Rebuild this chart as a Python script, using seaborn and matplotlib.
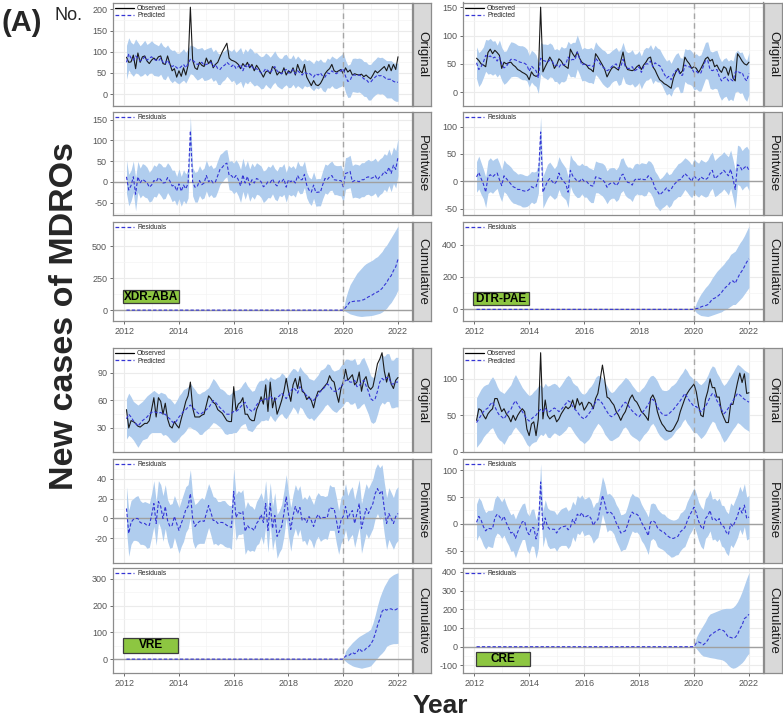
import numpy as np
import pandas as pd
import seaborn as sns
import matplotlib.pyplot as plt
from matplotlib.lines import Line2D
from matplotlib.patches import Rectangle

# ---------------- data (monthly, Jan 2012 .. Dec 2021) ----------------
months = 2012 + np.arange(1, 121) / 12
post = np.arange(120) >= 96

xdr_obs = [87, 75, 76, 92, 60, 97, 75, 88, 90, 78, 72, 80,
           85, 80, 88, 90, 72, 70, 90, 72, 55, 60, 40, 55,
           42, 62, 45, 68, 205, 80, 62, 58, 75, 68, 65, 85,
           72, 80, 62, 70, 75, 88, 100, 110, 120, 85, 80, 78,
           75, 70, 60, 72, 65, 75, 62, 70, 55, 68, 60, 50,
           40, 52, 55, 48, 65, 60, 45, 52, 48, 62, 45, 55,
           50, 62, 45, 70, 55, 50, 70, 40, 30, 20, 32, 22,
           20, 25, 35, 48, 55, 60, 70, 55, 52, 55, 58, 48,
           62, 52, 57, 45, 48, 46, 45, 47, 41, 45, 40, 36,
           45, 55, 50, 55, 60, 65, 55, 70, 55, 70, 58, 88]
xdr_pred = [75, 95, 85, 80, 90, 85, 78, 82, 88, 80, 85, 88,
            82, 80, 78, 85, 75, 72, 80, 70, 65, 68, 62, 60,
            65, 70, 62, 72, 82, 80, 75, 70, 72, 75, 68, 70,
            72, 75, 65, 70, 60, 58, 65, 68, 75, 70, 65, 70,
            60, 65, 70, 55, 68, 62, 70, 65, 58, 60, 55, 50,
            52, 60, 55, 50, 58, 65, 55, 50, 48, 55, 58, 50,
            50, 58, 48, 55, 50, 45, 52, 48, 50, 45, 40, 48,
            45, 50, 42, 40, 50, 48, 55, 50, 48, 52, 55, 60,
            42, 30, 32, 45, 45, 44, 45, 42, 36, 35, 28, 28,
            35, 40, 45, 43, 44, 40, 35, 35, 35, 30, 28, 28]
xdr_hw = [40, 38, 37, 38, 40, 37, 36, 38, 39, 37, 36, 38,
          38, 37, 36, 38, 39, 38, 36, 37, 38, 36, 35, 36,
          36, 37, 36, 35, 34, 34, 36, 37, 36, 35, 36, 37,
          37, 36, 35, 36, 37, 36, 35, 34, 33, 34, 36, 37,
          38, 39, 40, 40, 39, 38, 39, 40, 39, 38, 37, 38,
          38, 37, 38, 37, 36, 37, 36, 35, 36, 37, 36, 35,
          34, 35, 34, 35, 34, 33, 32, 31, 31, 32, 32, 33,
          33, 33, 34, 35, 35, 34, 35, 36, 35, 36, 37, 37,
          38, 38, 39, 39, 40, 40, 40, 41, 41, 41, 42, 42,
          42, 42, 43, 43, 43, 43, 44, 44, 44, 44, 45, 45]
xdr_cum_hi = [70, 108, 133, 163, 190, 218, 238, 253, 268, 273, 271, 273,
              273, 273, 278, 286, 290, 295, 295, 290, 300, 290, 290, 260]
xdr_cum_lo = [30, 62, 97, 102, 110, 117, 120, 127, 130, 138, 149, 155,
              162, 172, 172, 179, 185, 195, 200, 210, 210, 220, 220, 240]

dtr_obs = [60, 56, 50, 48, 45, 70, 76, 68, 74, 70, 65, 42,
           53, 50, 52, 53, 48, 45, 40, 38, 35, 33, 30, 22,
           36, 30, 28, 30, 150, 36, 45, 53, 62, 55, 42, 48,
           59, 55, 48, 45, 42, 76, 68, 62, 71, 60, 53, 50,
           48, 42, 40, 36, 68, 62, 55, 48, 40, 27, 35, 42,
           45, 42, 39, 55, 71, 48, 40, 39, 38, 40, 45, 48,
           40, 48, 53, 60, 62, 45, 39, 30, 22, 19, 15, 13,
           10, 7, 25, 35, 42, 33, 38, 62, 55, 50, 42, 45,
           42, 35, 42, 50, 59, 62, 55, 58, 45, 48, 40, 35,
           45, 42, 30, 45, 25, 20, 68, 62, 55, 50, 48, 53]
dtr_pred = [52, 40, 45, 53, 65, 62, 64, 60, 62, 55, 62, 50,
            43, 45, 52, 58, 58, 57, 55, 53, 52, 51, 48, 37,
            46, 42, 38, 25, 60, 56, 55, 53, 57, 55, 47, 48,
            44, 50, 48, 50, 62, 56, 58, 57, 71, 60, 48, 50,
            48, 47, 48, 45, 60, 55, 50, 45, 42, 38, 40, 45,
            48, 50, 42, 45, 58, 45, 42, 42, 45, 38, 40, 45,
            35, 45, 50, 50, 55, 45, 52, 48, 47, 40, 32, 25,
            28, 22, 32, 38, 40, 30, 30, 48, 45, 45, 42, 35,
            37, 33, 34, 45, 56, 56, 40, 38, 40, 40, 28, 20,
            25, 27, 20, 23, 20, 35, 38, 34, 35, 25, 20, 33]
dtr_hw = [28, 30, 29, 27, 28, 30, 31, 30, 29, 28, 30, 29,
          29, 28, 30, 31, 30, 29, 28, 29, 30, 29, 28, 28,
          28, 29, 28, 27, 28, 29, 30, 31, 30, 29, 28, 29,
          30, 31, 30, 29, 28, 29, 30, 31, 30, 29, 28, 29,
          29, 30, 31, 30, 29, 28, 29, 30, 31, 30, 29, 28,
          28, 29, 30, 31, 30, 29, 28, 29, 30, 29, 28, 28,
          29, 30, 29, 28, 29, 30, 31, 30, 29, 28, 29, 30,
          30, 29, 28, 29, 30, 31, 30, 29, 30, 31, 30, 31,
          31, 31, 32, 32, 32, 33, 33, 33, 33, 34, 34, 34,
          34, 34, 35, 35, 35, 35, 36, 36, 36, 36, 36, 37]
dtr_cum_hi = [35, 63, 80, 95, 112, 121, 126, 131, 146, 158, 161, 161,
              156, 161, 166, 169, 174, 199, 194, 191, 191, 191, 193, 203]
dtr_cum_lo = [25, 37, 53, 60, 65, 73, 84, 99, 99, 102, 109, 119,
              129, 139, 139, 151, 146, 131, 146, 159, 164, 169, 177, 177]

vre_obs = [50, 30, 38, 37, 35, 32, 31, 33, 35, 35, 38, 50,
           63, 42, 63, 59, 45, 57, 40, 32, 30, 37, 33, 30,
           40, 49, 59, 65, 80, 52, 42, 42, 42, 44, 45, 55,
           65, 62, 58, 56, 50, 48, 46, 42, 38, 37, 37, 75,
           49, 56, 58, 63, 45, 45, 40, 38, 38, 50, 56, 64,
           56, 77, 48, 80, 52, 63, 45, 52, 60, 70, 84, 70,
           59, 77, 84, 73, 86, 70, 68, 61, 64, 60, 52, 63,
           70, 70, 73, 76, 79, 87, 82, 80, 68, 58, 73, 80,
           94, 82, 85, 88, 77, 80, 91, 70, 82, 86, 75, 72,
           75, 87, 100, 105, 112, 92, 80, 90, 78, 73, 82, 85]
vre_pred = [40, 45, 42, 38, 35, 32, 35, 38, 40, 42, 45, 47,
            48, 47, 46, 47, 45, 45, 42, 40, 37, 35, 38, 42,
            45, 48, 50, 53, 55, 52, 50, 47, 45, 46, 48, 50,
            52, 56, 60, 58, 55, 52, 50, 47, 45, 45, 46, 48,
            48, 50, 53, 56, 58, 52, 50, 48, 50, 55, 58, 60,
            60, 62, 60, 65, 62, 60, 63, 65, 68, 65, 62, 66,
            70, 74, 72, 68, 75, 72, 68, 65, 62, 62, 60, 63,
            66, 70, 72, 75, 78, 76, 72, 70, 70, 72, 75, 78,
            82, 82, 80, 80, 82, 75, 76, 80, 82, 76, 70, 62,
            60, 62, 70, 80, 84, 82, 85, 85, 78, 78, 80, 80]
vre_hw = [22, 23, 22, 21, 22, 23, 22, 21, 22, 23, 22, 22,
          23, 22, 21, 22, 23, 22, 21, 22, 22, 21, 22, 23,
          23, 24, 23, 22, 24, 23, 22, 21, 22, 23, 22, 22,
          22, 23, 24, 23, 22, 21, 22, 23, 22, 21, 22, 23,
          23, 22, 21, 22, 23, 24, 23, 22, 21, 22, 23, 22,
          22, 23, 22, 21, 22, 23, 22, 21, 22, 23, 22, 22,
          22, 21, 22, 23, 22, 21, 22, 23, 22, 21, 22, 22,
          22, 23, 22, 21, 22, 23, 22, 22, 23, 22, 23, 23,
          23, 23, 24, 24, 24, 24, 24, 25, 25, 25, 25, 25,
          25, 25, 25, 26, 26, 26, 26, 26, 26, 26, 27, 27]
vre_cum_hi = [18, 30, 35, 37, 50, 53, 45, 60, 65, 60, 60, 57,
              65, 70, 75, 80, 75, 85, 105, 115, 122, 133, 135, 133]
vre_cum_lo = [20, 27, 37, 50, 48, 55, 72, 64, 62, 70, 73, 80,
              85, 100, 120, 135, 155, 155, 135, 135, 132, 125, 127, 131]

cre_obs = [43, 59, 57, 50, 45, 52, 56, 59, 73, 73, 64, 55,
           59, 52, 48, 41, 50, 43, 50, 55, 59, 55, 31, 22,
           38, 41, 22, 45, 136, 45, 71, 50, 45, 48, 50, 41,
           45, 52, 57, 62, 59, 62, 71, 59, 73, 64, 68, 57,
           62, 68, 66, 59, 73, 80, 99, 119, 99, 75, 73, 68,
           64, 55, 50, 43, 50, 55, 64, 73, 78, 71, 68, 62,
           55, 52, 48, 43, 73, 78, 71, 55, 45, 38, 34, 29,
           28, 28, 31, 37, 43, 55, 64, 73, 80, 85, 89, 93,
           82, 63, 50, 48, 72, 83, 100, 88, 88, 75, 75, 55,
           47, 40, 40, 65, 65, 80, 95, 108, 95, 107, 80, 81]
cre_pred = [40, 45, 50, 55, 58, 60, 65, 68, 62, 55, 50, 48,
            45, 50, 55, 58, 65, 70, 65, 60, 55, 50, 45, 42,
            45, 48, 50, 55, 58, 55, 60, 55, 55, 58, 60, 58,
            55, 58, 62, 66, 70, 68, 62, 58, 55, 50, 47, 45,
            48, 52, 56, 62, 68, 72, 70, 66, 60, 55, 50, 48,
            50, 53, 56, 60, 65, 68, 65, 60, 56, 53, 50, 48,
            52, 56, 60, 65, 70, 72, 68, 62, 56, 52, 50, 50,
            52, 55, 58, 62, 66, 70, 75, 80, 75, 70, 66, 62,
            62, 58, 55, 58, 62, 68, 75, 80, 78, 70, 65, 58,
            52, 55, 60, 65, 70, 75, 80, 78, 75, 72, 70, 68]
cre_hw = [34, 35, 36, 35, 34, 33, 34, 35, 36, 35, 34, 34,
          35, 34, 33, 34, 35, 36, 35, 34, 33, 34, 35, 35,
          34, 35, 36, 35, 34, 33, 34, 35, 36, 35, 34, 34,
          33, 34, 35, 36, 35, 34, 33, 34, 35, 34, 33, 34,
          34, 35, 34, 33, 34, 33, 34, 35, 36, 35, 34, 33,
          33, 34, 35, 34, 33, 34, 35, 36, 35, 34, 33, 34,
          34, 33, 34, 35, 34, 33, 34, 35, 34, 33, 34, 34,
          34, 35, 34, 33, 34, 35, 34, 35, 36, 35, 36, 36,
          36, 36, 37, 37, 37, 37, 38, 38, 38, 38, 38, 38,
          39, 39, 39, 39, 39, 40, 40, 40, 40, 40, 40, 40]
cre_cum_hi = [30, 50, 75, 105, 115, 125, 115, 112, 107, 107, 102, 110,
              118, 135, 155, 155, 165, 172, 175, 170, 180, 180, 205, 222]
cre_cum_lo = [30, 50, 60, 60, 72, 90, 118, 128, 140, 148, 160, 159,
              160, 155, 150, 160, 160, 162, 170, 190, 200, 220, 210, 208]

panels = {
    "XDR-ABA": dict(obs=xdr_obs, pred=xdr_pred, hw=xdr_hw, chi=xdr_cum_hi, clo=xdr_cum_lo,
                    ticks=[[0, 50, 100, 150, 200], [-50, 0, 50, 100, 150], [0, 250, 500]]),
    "DTR-PAE": dict(obs=dtr_obs, pred=dtr_pred, hw=dtr_hw, chi=dtr_cum_hi, clo=dtr_cum_lo,
                    ticks=[[0, 50, 100, 150], [-50, 0, 50, 100], [0, 200, 400]]),
    "VRE": dict(obs=vre_obs, pred=vre_pred, hw=vre_hw, chi=vre_cum_hi, clo=vre_cum_lo,
                ticks=[[30, 60, 90], [-20, 0, 20, 40], [0, 100, 200, 300]]),
    "CRE": dict(obs=cre_obs, pred=cre_pred, hw=cre_hw, chi=cre_cum_hi, clo=cre_cum_lo,
                ticks=[[0, 50, 100], [-50, 0, 50, 100], [-100, 0, 100, 200, 300, 400]]),
}
facet_names = ["Original", "Pointwise", "Cumulative"]

# ---------------- layout (pixels, top-left origin) ----------------
W, H = 783, 719
cols = [(112.7, 411.7), (462.7, 762.7)]
rows = {"top": [(2.5, 106), (112, 215.5), (221.5, 321)],
        "bot": [(348, 452), (459, 563), (568, 673)]}
where = {"XDR-ABA": (0, "top", (123, 290, 179, 303)),
         "DTR-PAE": (1, "top", (473, 292, 529, 305)),
         "VRE": (0, "bot", (123, 638, 178, 653)),
         "CRE": (1, "bot", (476, 652, 530, 666))}

BAND = "#B0CDEE"
BLUE = "#3535D5"
GREY = "#8C8C8C"

sns.set_theme(style="white")
plt.rcParams["font.family"] = ["Liberation Sans", "DejaVu Sans"]
plt.rcParams["axes.unicode_minus"] = False

fig = plt.figure(figsize=(W / 100, H / 100), dpi=100)


def rect(x0, y0, x1, y1):
    return [x0 / W, 1 - y1 / H, (x1 - x0) / W, (y1 - y0) / H]


def style_axes(ax, ticks, show_x):
    ax.margins(x=0.05, y=0.05)
    ax.set_xticks([2012, 2014, 2016, 2018, 2020, 2022])
    ax.set_xticks([2011, 2013, 2015, 2017, 2019, 2021, 2023], minor=True)
    step = ticks[1] - ticks[0]
    lo, hi = ax.get_ylim()
    ax.set_yticks(ticks)
    ax.set_yticks([t + step / 2 for t in [ticks[0] - step] + ticks], minor=True)
    ax.set_ylim(lo, hi)
    ax.set_xlim(2011.58, 2022.5)
    ax.grid(True, which="major", color="#EBEBEB", linewidth=0.8)
    ax.grid(True, which="minor", color="#F4F4F4", linewidth=0.5)
    ax.set_axisbelow(True)
    for s in ax.spines.values():
        s.set_color(GREY)
        s.set_linewidth(0.9)
    ax.tick_params(which="major", length=2.5, width=0.6, color="#555555",
                   labelsize=6.5, labelcolor="#555555", pad=1.5,
                   left=True, bottom=show_x, labelbottom=show_x)
    ax.tick_params(which="minor", length=0)
    ax.set_xlabel("")
    ax.set_ylabel("")


def add_strip(x1, y0, y1, text):
    sax = fig.add_axes(rect(x1 + 1.5, y0, x1 + 19.5, y1))
    sax.set_facecolor("#D9D9D9")
    sax.set_xticks([])
    sax.set_yticks([])
    for s in sax.spines.values():
        s.set_color(GREY)
        s.set_linewidth(0.9)
    sax.text(0.5, 0.5, text, rotation=270, ha="center", va="center",
             fontsize=9.6, color="#1A1A1A", transform=sax.transAxes)


for name, d in panels.items():
    c, blk, lab = where[name]
    x0, x1 = cols[c]
    obs = np.array(d["obs"], dtype=float)
    pred = np.array(d["pred"], dtype=float)
    hw = np.array(d["hw"], dtype=float)
    res = obs - pred
    cum = np.where(post, np.cumsum(np.where(post, res, 0.0)), 0.0)
    cum_hi = np.zeros(120)
    cum_lo = np.zeros(120)
    cum_hi[post] = cum[post] + np.array(d["chi"])
    cum_lo[post] = cum[post] - np.array(d["clo"])
    df = pd.DataFrame({"year": months, "obs": obs, "pred": pred, "res": res, "cum": cum})

    for r, facet in enumerate(facet_names):
        y0, y1 = rows[blk][r]
        ax = fig.add_axes(rect(x0, y0, x1, y1))
        if r == 0:
            ax.fill_between(months, pred - hw, pred + hw, color=BAND, linewidth=0)
            sns.lineplot(data=df, x="year", y="obs", ax=ax, color="#1A1A1A",
                         linewidth=0.8, legend=False)
            sns.lineplot(data=df, x="year", y="pred", ax=ax, color=BLUE,
                         linewidth=0.8, linestyle=(0, (3, 1.8)), legend=False)
            handles = [Line2D([], [], color="black", lw=0.9),
                       Line2D([], [], color=BLUE, lw=0.9, ls=(0, (3, 1.8)))]
            labels = ["Observed", "Predicted"]
        elif r == 1:
            ax.fill_between(months, res - hw, res + hw, color=BAND, linewidth=0)
            ax.axhline(0, color="#A0A0A0", linewidth=1.0)
            sns.lineplot(data=df, x="year", y="res", ax=ax, color=BLUE,
                         linewidth=0.8, linestyle=(0, (3, 1.8)), legend=False)
            handles = [Line2D([], [], color=BLUE, lw=0.9, ls=(0, (3, 1.8)))]
            labels = ["Residuals"]
        else:
            ax.fill_between(months, cum_lo, cum_hi, color=BAND, linewidth=0)
            ax.axhline(0, color="#A0A0A0", linewidth=1.0)
            sns.lineplot(data=df, x="year", y="cum", ax=ax, color=BLUE,
                         linewidth=0.8, linestyle=(0, (3, 1.8)), legend=False)
            handles = [Line2D([], [], color=BLUE, lw=0.9, ls=(0, (3, 1.8)))]
            labels = ["Residuals"]
        ax.axvline(2020, color="#A6A6A6", linewidth=1.0, linestyle=(0, (4, 3)))
        style_axes(ax, d["ticks"][r], show_x=(r == 2))
        ax.legend(handles, labels, loc="upper left", frameon=False, fontsize=4.8,
                  handlelength=2.8, handletextpad=0.5, labelspacing=0.05,
                  borderaxespad=0.15, borderpad=0.2)
        add_strip(x1, y0, y1, facet)

    bx0, by0, bx1, by1 = lab
    fig.patches.append(Rectangle((bx0 / W, 1 - by1 / H), (bx1 - bx0) / W, (by1 - by0) / H,
                                 transform=fig.transFigure, facecolor="#8DC641",
                                 edgecolor="#3C3C3C", linewidth=0.9, zorder=5))
    fig.text((bx0 + bx1) / 2 / W, 1 - (by0 + by1) / 2 / H, name, ha="center", va="center",
             fontsize=8.5, fontweight="bold", color="black", zorder=6)

fig.text(22 / W, 1 - 23 / H, "(A)", fontsize=21, fontweight="bold", ha="center", va="center")
fig.text(68 / W, 1 - 15 / H, "No.", fontsize=13, ha="center", va="center")
fig.text(65 / W, 1 - 316 / H, "New cases of MDROs", rotation=90, fontsize=24.5,
         fontweight="bold", ha="center", va="center")
fig.text(440 / W, 1 - 706 / H, "Year", fontsize=19, fontweight="bold", ha="center", va="center")

fig.savefig("out.png", dpi=100)
